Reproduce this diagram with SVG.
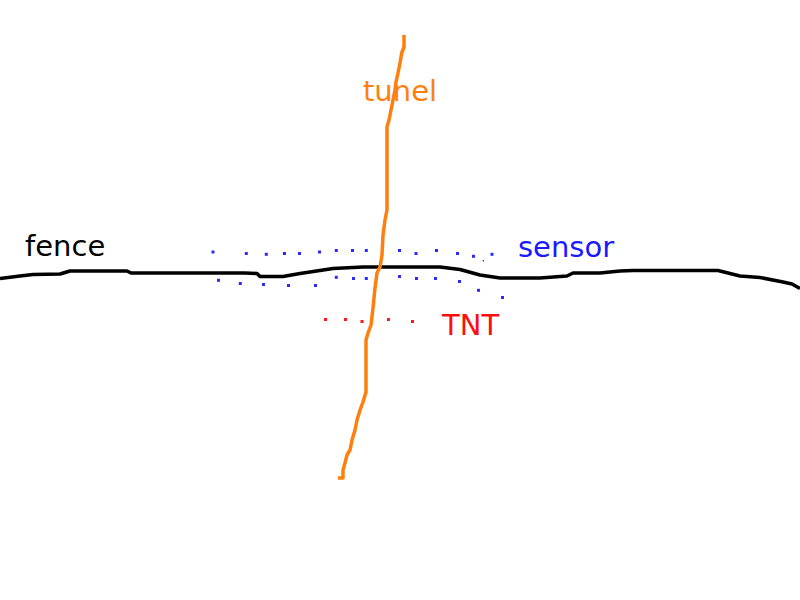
<svg xmlns="http://www.w3.org/2000/svg" width="800" height="600" viewBox="0 0 800 600">
<style>
text{font-family:"DejaVu Sans","Liberation Sans",sans-serif;font-size:29px}
.line{fill:none;stroke-linejoin:round;stroke-linecap:butt}
.b{fill:#2a2aff}
.r{fill:#ff1a1a}
.b rect,.r rect{width:3px;height:3px}
</style>
<rect width="800" height="600" fill="#fff"/>
<g id="fence">
<polyline class="line" stroke="#000" stroke-width="3.5" points="0,278.5 20,276 33,274.5 60,274 70,271 127,271 131,273 245,273 257,273.5 260,276.5 283,276.5 300,273.5 310,272 333,268.5 363,267 440,267 452,268.5 460,269.5 480,275 500,278 540,278 567,276 573,273 600,273 620,271 633,270.5 718,270.5 740,276 760,277.5 783,282 792,284 800,288.5"/>
<text x="25" y="256" fill="#000">fence</text>
</g>
<g id="tunnel">
<polyline class="line" stroke="#ff7f0e" stroke-width="3.5" points="404,35 404,47 401.7,53 400,63 398,73 396,82 395,90 393,100 391,110 389,120 387,127 387,210 385,220 383,235 382,255 380,267 377,273 375,288 373,308 371,325 368,333 366,340 366,392 363,402 360,410 357,420 355,430 352,440 350,450 347,455 345,463 343,470 343,478 338,478"/>
<text x="363" y="101" fill="#ff7f0e">tunel</text>
</g>
<g id="sensor">
<g class="b">
<rect x="211.5" y="250.5" width="3" height="3"/>
<rect x="244.8" y="252" width="3" height="3"/>
<rect x="264.8" y="252.8" width="3" height="3"/>
<rect x="283" y="252" width="3" height="3"/>
<rect x="298" y="252" width="3" height="3"/>
<rect x="318" y="250.5" width="3" height="3"/>
<rect x="334.8" y="249" width="3" height="3"/>
<rect x="351" y="249" width="3" height="3"/>
<rect x="364.8" y="249" width="3" height="3"/>
<rect x="398" y="249" width="3" height="3"/>
<rect x="414.5" y="252" width="3" height="3"/>
<rect x="435" y="249" width="3" height="3"/>
<rect x="456" y="252" width="3" height="3"/>
<rect x="472" y="254.8" width="3" height="3"/>
<rect x="490.5" y="252.8" width="3" height="3"/>
<rect x="482.8" y="260" width="1.2" height="1.5" style="width:1.2px;height:1.5px"/>
<rect x="217" y="278.8" width="3" height="3"/>
<rect x="238.8" y="282" width="3" height="3"/>
<rect x="262" y="283" width="3" height="3"/>
<rect x="287" y="284" width="3" height="3"/>
<rect x="314" y="284" width="3" height="3"/>
<rect x="334.8" y="275.8" width="3" height="3"/>
<rect x="352" y="277" width="3" height="3"/>
<rect x="364.8" y="277" width="3" height="3"/>
<rect x="398" y="275" width="3" height="3"/>
<rect x="415" y="277" width="3" height="3"/>
<rect x="434" y="277" width="3" height="3"/>
<rect x="458" y="280" width="3" height="3"/>
<rect x="477" y="288.8" width="3" height="3"/>
<rect x="501" y="296" width="3" height="3"/>
</g>
<text x="518" y="257" fill="#1a1aff">sensor</text>
</g>
<g id="tnt">
<g class="r">
<rect x="324" y="318" width="3" height="3"/>
<rect x="344" y="318" width="3" height="3"/>
<rect x="360.5" y="320" width="3" height="3"/>
<rect x="387" y="318" width="3" height="3"/>
<rect x="411" y="320" width="3" height="3"/>
</g>
<text x="442" y="335" fill="#ff0d0d">TNT</text>
</g>
</svg>
